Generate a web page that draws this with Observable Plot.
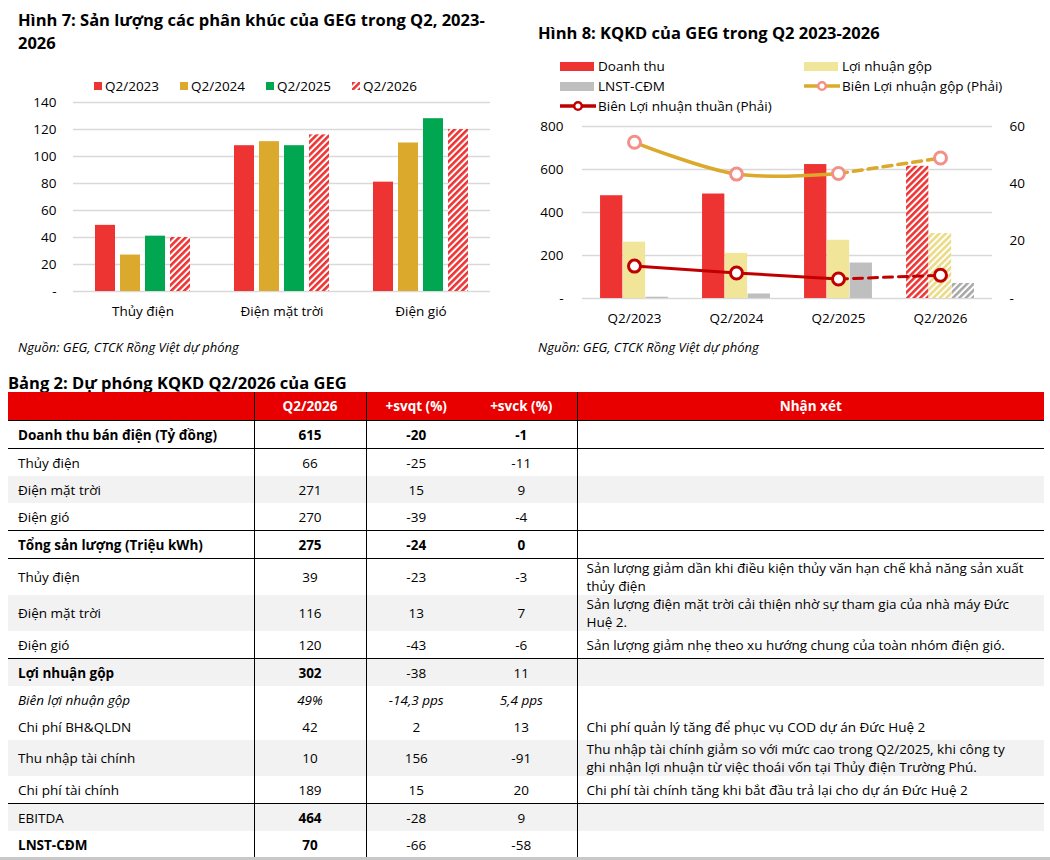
<!DOCTYPE html>
<html lang="vi"><head><meta charset="utf-8">
<script src="https://cdn.jsdelivr.net/npm/d3@7"></script>
<script src="https://cdn.jsdelivr.net/npm/@observablehq/plot@0.6"></script>
<style>
html,body{margin:0;padding:0;background:#fff}
body{width:1050px;height:860px;position:relative;overflow:hidden;font-family:"Open Sans",sans-serif;color:#000}
.abs{position:absolute}
.title{font-weight:700;font-size:16.5px;line-height:23px}
.src{font-style:italic;font-size:13px;line-height:18px;white-space:nowrap}
.it{position:absolute;display:flex;align-items:center;height:16px;font-size:13.5px;white-space:nowrap}
.sq{width:8px;height:8px;margin-right:3px}
.sw{width:34px;height:9px;margin-right:4px}
table{border-collapse:collapse;table-layout:fixed;font-size:13.5px;width:1036px}
td,th{padding:0 8px;height:27px;line-height:18px;vertical-align:middle;white-space:pre-line;overflow:visible}
th{background:#E80000;color:#fff;font-weight:700;height:28px;text-align:center;border-bottom:1.5px solid #000}
td.c0{padding-left:10px;text-align:left}
td.c1,td.c2,td.c3{text-align:center}
td.c4{padding-left:9px;text-align:left}
.br{border-right:1px solid #000}
tr.g td{background:#F2F2F2}
tr.ln td{border-bottom:1.5px solid #000}
.b{font-weight:700}
.i{font-style:italic}
</style></head><body>
<svg width="0" height="0" style="position:absolute;left:0;top:0"><defs>
<pattern id="hatchRed" patternUnits="userSpaceOnUse" width="4.6" height="4.6" patternTransform="rotate(45)"><rect width="4.6" height="4.6" fill="#fff"/><rect width="2.6" height="4.6" fill="#EE3333"/></pattern>
<pattern id="hatchYellow" patternUnits="userSpaceOnUse" width="4.6" height="4.6" patternTransform="rotate(45)"><rect width="4.6" height="4.6" fill="#fff"/><rect width="2.6" height="4.6" fill="#EADB84"/></pattern>
<pattern id="hatchGray" patternUnits="userSpaceOnUse" width="4.6" height="4.6" patternTransform="rotate(45)"><rect width="4.6" height="4.6" fill="#fff"/><rect width="2.6" height="4.6" fill="#A8A8A8"/></pattern>
</defs></svg>

<div class="abs title" style="left:18px;top:8px;width:490px">Hình 7: Sản lượng các phân khúc của GEG trong Q2, 2023-2026</div>
<div id="leg1"></div>
<div id="c1" class="abs" style="left:0;top:95px"></div>
<div class="abs src" style="left:18px;top:338px">Nguồn: GEG, CTCK Rồng Việt dự phóng</div>

<div class="abs title" style="left:538px;top:21px;white-space:nowrap">Hình 8: KQKD của GEG trong Q2 2023-2026</div>
<div id="leg2"></div>
<div id="c2" class="abs" style="left:530px;top:114px"></div>
<div class="abs src" style="left:538px;top:338px">Nguồn: GEG, CTCK Rồng Việt dự phóng</div>

<div class="abs title" style="left:8px;top:371px;white-space:nowrap">Bảng 2: Dự phóng KQKD Q2/2026 của GEG</div>
<table id="tbl" class="abs" style="left:8px;top:392px"></table>
<div class="abs" style="left:0;top:857px;width:1050px;height:3px;background:#C8C8C8"></div>

<script>
// ===== Chart 1: segment output (Triệu kWh) =====
const segCats = ["Thủy điện", "Điện mặt trời", "Điện gió"];
const segYears = ["Q2/2023", "Q2/2024", "Q2/2025", "Q2/2026"];
const seg2023 = [49, 108, 81];
const seg2024 = [27, 111, 110];
const seg2025 = [41, 108, 128];
const seg2026 = [40, 116, 120];
const segTicks = [0, 20, 40, 60, 80, 100, 120, 140];

// ===== Chart 2: business results =====
const kqYears = ["Q2/2023", "Q2/2024", "Q2/2025", "Q2/2026"];
const revenue = [478, 486, 623, 615];
const grossProfit = [262, 210, 271, 302];
const netProfit = [6, 21, 165, 70];
const grossMargin = [54.5, 43.4, 43.6, 49.0];
const netMargin = [11.3, 8.9, 6.8, 8.1];
const leftTicks = [0, 200, 400, 600, 800];
const rightTicks = [0, 20, 40, 60];
const kqSeriesNames = ["Doanh thu", "Lợi nhuận gộp", "LNST-CĐM"];
const marginNames = ["Biên Lợi nhuận gộp (Phải)", "Biên Lợi nhuận thuần (Phải)"];

// ===== Table =====
const tblHead = ["", "Q2/2026", "+svqt (%)", "+svck (%)", "Nhận xét"];
const tblLabels = ["Doanh thu bán điện (Tỷ đồng)", "Thủy điện", "Điện mặt trời", "Điện gió", "Tổng sản lượng (Triệu kWh)", "Thủy điện", "Điện mặt trời", "Điện gió", "Lợi nhuận gộp", "Biên lợi nhuận gộp", "Chi phí BH&QLDN", "Thu nhập tài chính", "Chi phí tài chính", "EBITDA", "LNST-CĐM"];
const tblQ2 = ["615", "66", "271", "270", "275", "39", "116", "120", "302", "49%", "42", "10", "189", "464", "70"];
const tblSvqt = ["-20", "-25", "15", "-39", "-24", "-23", "13", "-43", "-38", "-14,3 pps", "2", "156", "15", "-28", "-66"];
const tblSvck = ["-1", "-11", "9", "-4", "0", "-3", "7", "-6", "11", "5,4 pps", "13", "-91", "20", "9", "-58"];
const tblComments = ["", "", "", "", "",
  "Sản lượng giảm dần khi điều kiện thủy văn hạn chế khả năng sản xuất\nthủy điện",
  "Sản lượng điện mặt trời cải thiện nhờ sự tham gia của nhà máy Đức\nHuệ 2.",
  "Sản lượng giảm nhẹ theo xu hướng chung của toàn nhóm điện gió.",
  "", "",
  "Chi phí quản lý tăng để phục vụ COD dự án Đức Huệ 2",
  "Thu nhập tài chính giảm so với mức cao trong Q2/2025, khi công ty\nghi nhận lợi nhuận từ việc thoái vốn tại Thủy điện Trường Phú.",
  "Chi phí tài chính tăng khi bắt đầu trả lại cho dự án Đức Huệ 2",
  "", ""];

// styling sets (row indices)
const boldLabelRows = [0, 4, 8, 14];
const boldQ2Rows = [0, 4, 8, 13, 14];
const boldChangeRows = [0, 4];
const italicRows = [9];
const grayRows = [2, 6, 8, 11, 13];
const lineRows = [0, 3, 4, 7, 12];

const FONT = '"Open Sans",sans-serif';
const segFills = ["#EE3333", "#DBA92B", "#00A650", "url(#hatchRed)"];

// Legend 1
const leg1X = [94, 180, 266, 352];
document.getElementById("leg1").innerHTML = segYears.map((y, i) =>
  `<div class="it" style="left:${leg1X[i]}px;top:78px"><div class="sq" style="background:${segFills[i]}"></div>${y}</div>`).join("");
document.querySelectorAll("#leg1 .sq")[3].outerHTML = `<svg width="8" height="8" style="margin-right:3px"><rect width="8" height="8" fill="url(#hatchRed)"/></svg>`;

// Chart 1
const segSeries = [seg2023, seg2024, seg2025, seg2026];
const segRows = segYears.map((yr, i) => segCats.map((c, j) => ({cat: c, year: yr, value: segSeries[i][j]})));
const chart1 = Plot.plot({
  width: 510, height: 230, marginLeft: 72, marginRight: 20, marginTop: 7, marginBottom: 34,
  style: {fontFamily: FONT, fontSize: "13.5px", color: "#000", background: "transparent", overflow: "visible"},
  fx: {domain: segCats, padding: 0, label: null, tickSize: 0, tickPadding: 15},
  x: {domain: segYears, paddingInner: 0.2, paddingOuter: 0.85, axis: null},
  y: {domain: [0, 140]},
  marks: [
    Plot.ruleY(segTicks, {stroke: "#D9D9D9", strokeWidth: 1.5}),
    ...segRows.map((rows, i) => Plot.barY(rows, {fx: "cat", x: "year", y: "value", fill: segFills[i]})),
    Plot.axisY(segTicks, {tickSize: 0, tickPadding: 17, label: null, tickFormat: d => d === 0 ? "-" : String(d)})
  ]
});
document.getElementById("c1").appendChild(chart1);

// Legend 2
const leg2 = [
  {x: 560, y: 66, t: kqSeriesNames[0], sw: `<div class="sw" style="background:#EE3333"></div>`},
  {x: 804, y: 66, t: kqSeriesNames[1], sw: `<div class="sw" style="background:#F0E598"></div>`},
  {x: 560, y: 86, t: kqSeriesNames[2], sw: `<div class="sw" style="background:#BFBFBF"></div>`},
  {x: 804, y: 86, t: marginNames[0], sw: `<svg width="36" height="14" style="margin-right:2px"><line x1="0" x2="36" y1="7" y2="7" stroke="#DBA92B" stroke-width="3.5"/><circle cx="18" cy="7" r="3.8" fill="#fff" stroke="#F4908A" stroke-width="2.5"/></svg>`},
  {x: 560, y: 106, t: marginNames[1], sw: `<svg width="36" height="14" style="margin-right:2px"><line x1="0" x2="36" y1="7" y2="7" stroke="#C00000" stroke-width="3.5"/><circle cx="18" cy="7" r="3.8" fill="#fff" stroke="#C00000" stroke-width="2.5"/></svg>`}
];
document.getElementById("leg2").innerHTML = leg2.map(d =>
  `<div class="it" style="left:${d.x}px;top:${d.y - 8}px">${d.sw}${d.t}</div>`).join("");

// Chart 2
const k = 800 / 60;
const W2 = 520, ML2 = 52, MR2 = 58;
const bw = (W2 - ML2 - MR2) / kqYears.length;
const barW = 22.8;
const off = (bw - 3 * barW) / 2;
const kqSeries = [revenue, grossProfit, netProfit];
const kqFills = [["#EE3333", "url(#hatchRed)"], ["#F0E598", "url(#hatchYellow)"], ["#BFBFBF", "url(#hatchGray)"]];
const barMarks = [];
kqSeries.forEach((s, j) => {
  const rows = kqYears.map((y, i) => ({year: y, v: s[i]}));
  const inset = {insetLeft: off + j * barW, insetRight: bw - off - (j + 1) * barW};
  barMarks.push(Plot.barY(rows.slice(0, 3), {x: "year", y: "v", fill: kqFills[j][0], ...inset}));
  barMarks.push(Plot.barY(rows.slice(3), {x: "year", y: "v", fill: kqFills[j][1], ...inset}));
});
const gm = kqYears.map((y, i) => ({year: y, v: grossMargin[i] * k}));
const nm = kqYears.map((y, i) => ({year: y, v: netMargin[i] * k}));
const chart2 = Plot.plot({
  width: W2, height: 216, marginLeft: ML2, marginRight: MR2, marginTop: 12, marginBottom: 32,
  style: {fontFamily: FONT, fontSize: "13.5px", color: "#000", background: "transparent", overflow: "visible"},
  x: {domain: kqYears, padding: 0, label: null},
  y: {domain: [0, 800]},
  marks: [
    Plot.ruleY(leftTicks, {stroke: "#D9D9D9", strokeWidth: 1.5}),
    ...barMarks,
    Plot.line(gm.slice(0, 3), {x: "year", y: "v", stroke: "#DBA92B", strokeWidth: 3.5, curve: "catmull-rom"}),
    Plot.line(gm.slice(2), {x: "year", y: "v", stroke: "#DBA92B", strokeWidth: 3.5, strokeDasharray: "9,6"}),
    Plot.line(nm.slice(0, 3), {x: "year", y: "v", stroke: "#C00000", strokeWidth: 3}),
    Plot.line(nm.slice(2), {x: "year", y: "v", stroke: "#C00000", strokeWidth: 3, strokeDasharray: "9,6"}),
    Plot.dot(gm, {x: "year", y: "v", r: 6, fill: "#fff", stroke: "#F4908A", strokeWidth: 3}),
    Plot.dot(nm, {x: "year", y: "v", r: 6, fill: "#fff", stroke: "#C00000", strokeWidth: 3}),
    Plot.axisY(leftTicks, {anchor: "left", tickSize: 0, tickPadding: 19, label: null, tickFormat: d => d === 0 ? "-" : String(d)}),
    Plot.axisY(rightTicks.map(v => v * k), {anchor: "right", tickSize: 0, tickPadding: 17, label: null, tickFormat: d => { const r = Math.round(d / k); return r === 0 ? "-" : String(r); }}),
    Plot.axisX({tickSize: 0, tickPadding: 15, label: null})
  ]
});
document.getElementById("c2").appendChild(chart2);

// Table
const esc = s => s.replace(/&/g, "&amp;").replace(/</g, "&lt;");
let html = `<colgroup><col style="width:246px"><col style="width:112px"><col style="width:100px"><col style="width:111px"><col style="width:467px"></colgroup>`;
html += `<tr>${tblHead.map((h, i) => `<th class="${[0, 1, 3].includes(i) ? "br" : ""}">${esc(h)}</th>`).join("")}</tr>`;
tblLabels.forEach((lab, r) => {
  const cls = [grayRows.includes(r) ? "g" : "", lineRows.includes(r) ? "ln" : ""].join(" ");
  const it = italicRows.includes(r) ? " i" : "";
  html += `<tr class="${cls}">` +
    `<td class="c0 br${boldLabelRows.includes(r) ? " b" : ""}${it}">${esc(lab)}</td>` +
    `<td class="c1 br${boldQ2Rows.includes(r) ? " b" : ""}${it}">${esc(tblQ2[r])}</td>` +
    `<td class="c2${boldChangeRows.includes(r) ? " b" : ""}${it}">${esc(tblSvqt[r])}</td>` +
    `<td class="c3 br${boldChangeRows.includes(r) ? " b" : ""}${it}">${esc(tblSvck[r])}</td>` +
    `<td class="c4">${esc(tblComments[r])}</td></tr>`;
});
document.getElementById("tbl").innerHTML = html;
</script>
</body></html>
